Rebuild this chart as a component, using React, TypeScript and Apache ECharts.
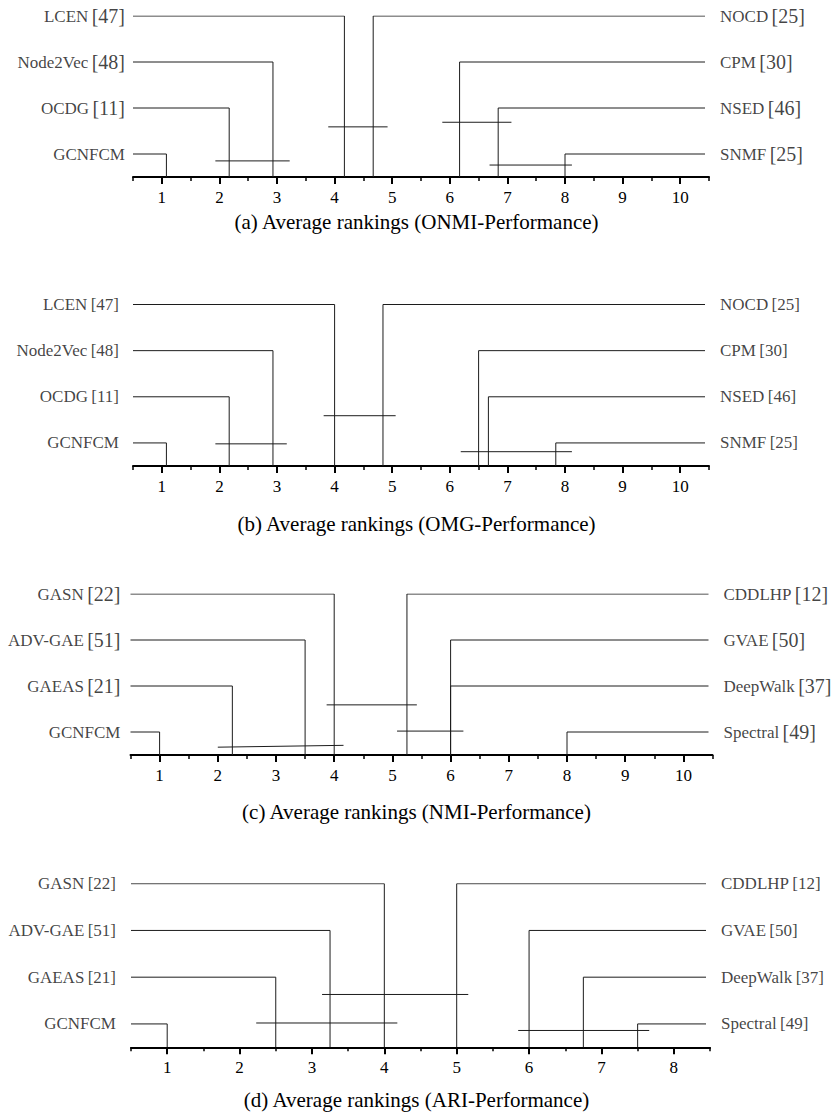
import React, { useEffect, useRef } from 'react';
import * as echarts from 'echarts';

// ---------- Panel (a) ONMI ----------
const aLeftNames = ['GCNFCM', 'OCDG', 'Node2Vec', 'LCEN'];
const aLeftRefs = ['', '[11]', '[48]', '[47]'];
const aLeftRanks = [1.08, 2.17, 2.93, 4.17];
const aRightNames = ['SNMF', 'NSED', 'CPM', 'NOCD'];
const aRightRefs = ['[25]', '[46]', '[30]', '[25]'];
const aRightRanks = [8.0, 6.84, 6.17, 4.67];
const aCdFrom = [1.93, 3.89, 5.87, 6.69];
const aCdTo = [3.22, 4.92, 7.07, 8.12];
const aCdLevelFrom = [0.35, 1.09, 1.19, 0.26];
const aCdLevelTo = [0.35, 1.09, 1.19, 0.26];
const aCaption = '(a) Average rankings (ONMI-Performance)';

// ---------- Panel (b) OMG ----------
const bLeftNames = ['GCNFCM', 'OCDG', 'Node2Vec', 'LCEN'];
const bLeftRefs = ['', '[11]', '[48]', '[47]'];
const bLeftRanks = [1.08, 2.17, 2.93, 4.0];
const bRightNames = ['SNMF', 'NSED', 'CPM', 'NOCD'];
const bRightRefs = ['[25]', '[46]', '[30]', '[25]'];
const bRightRanks = [7.84, 6.67, 6.5, 4.84];
const bCdFrom = [1.93, 3.81, 6.19];
const bCdTo = [3.17, 5.06, 8.12];
const bCdLevelFrom = [0.48, 1.09, 0.31];
const bCdLevelTo = [0.48, 1.09, 0.31];
const bCaption = '(b) Average rankings (OMG-Performance)';

// ---------- Panel (c) NMI ----------
const cLeftNames = ['GCNFCM', 'GAEAS', 'ADV-GAE', 'GASN'];
const cLeftRefs = ['', '[21]', '[51]', '[22]'];
const cLeftRanks = [1.0, 2.25, 3.5, 4.0];
const cRightNames = ['Spectral', 'DeepWalk', 'GVAE', 'CDDLHP'];
const cRightRefs = ['[49]', '[37]', '[50]', '[12]'];
const cRightRanks = [8.0, 6.0, 6.0, 5.25];
const cCdFrom = [2.0, 3.87, 5.08];
const cCdTo = [4.16, 5.42, 6.22];
const cCdLevelFrom = [0.17, 1.09, 0.52];
const cCdLevelTo = [0.21, 1.09, 0.52];
const cCaption = '(c) Average rankings (NMI-Performance)';

// ---------- Panel (d) ARI ----------
const dLeftNames = ['GCNFCM', 'GAEAS', 'ADV-GAE', 'GASN'];
const dLeftRefs = ['', '[21]', '[51]', '[22]'];
const dLeftRanks = [1.0, 2.5, 3.25, 4.0];
const dRightNames = ['Spectral', 'DeepWalk', 'GVAE', 'CDDLHP'];
const dRightRefs = ['[49]', '[37]', '[50]', '[12]'];
const dRightRanks = [7.5, 6.75, 6.0, 5.0];
const dCdFrom = [2.23, 3.14, 5.85];
const dCdTo = [4.18, 5.16, 7.66];
const dCdLevelFrom = [0.52, 1.13, 0.36];
const dCdLevelTo = [0.52, 1.13, 0.36];
const dCaption = '(d) Average rankings (ARI-Performance)';

const rowLevels = [0.5, 1.5, 2.5, 3.5];
const ticks10 = [1, 2, 3, 4, 5, 6, 7, 8, 9, 10];
const ticks8 = [1, 2, 3, 4, 5, 6, 7, 8];

const FONT = '"Liberation Serif", "Times New Roman", serif';

type Panel = {
  leftNames: string[]; leftRefs: string[]; leftRanks: number[];
  rightNames: string[]; rightRefs: string[]; rightRanks: number[];
  cdFrom: number[]; cdTo: number[]; cdLevelFrom: number[]; cdLevelTo: number[];
  caption: string; xMax: number; ticks: number[];
  // layout
  left: number; width: number; top: number; height: number;
  refSize: number; leftGap: number; captionTop: number;
};

const panels: Panel[] = [
  {
    leftNames: aLeftNames, leftRefs: aLeftRefs, leftRanks: aLeftRanks,
    rightNames: aRightNames, rightRefs: aRightRefs, rightRanks: aRightRanks,
    cdFrom: aCdFrom, cdTo: aCdTo, cdLevelFrom: aCdLevelFrom, cdLevelTo: aCdLevelTo,
    caption: aCaption, xMax: 10.5, ticks: ticks10,
    left: 133, width: 576, top: 16, height: 161, refSize: 20, leftGap: 8, captionTop: 211,
  },
  {
    leftNames: bLeftNames, leftRefs: bLeftRefs, leftRanks: bLeftRanks,
    rightNames: bRightNames, rightRefs: bRightRefs, rightRanks: bRightRanks,
    cdFrom: bCdFrom, cdTo: bCdTo, cdLevelFrom: bCdLevelFrom, cdLevelTo: bCdLevelTo,
    caption: bCaption, xMax: 10.5, ticks: ticks10,
    left: 133, width: 576, top: 304.5, height: 161.5, refSize: 17, leftGap: 14, captionTop: 513,
  },
  {
    leftNames: cLeftNames, leftRefs: cLeftRefs, leftRanks: cLeftRanks,
    rightNames: cRightNames, rightRefs: cRightRefs, rightRanks: cRightRanks,
    cdFrom: cCdFrom, cdTo: cCdTo, cdLevelFrom: cCdLevelFrom, cdLevelTo: cCdLevelTo,
    caption: cCaption, xMax: 10.5, ticks: ticks10,
    left: 130.5, width: 582, top: 594, height: 161, refSize: 20, leftGap: 10, captionTop: 801,
  },
  {
    leftNames: dLeftNames, leftRefs: dLeftRefs, leftRanks: dLeftRanks,
    rightNames: dRightNames, rightRefs: dRightRefs, rightRanks: dRightRanks,
    cdFrom: dCdFrom, cdTo: dCdTo, cdLevelFrom: dCdLevelFrom, cdLevelTo: dCdLevelTo,
    caption: dCaption, xMax: 8.5, ticks: ticks8,
    left: 131, width: 579, top: 883.7, height: 163.6, refSize: 17, leftGap: 15, captionTop: 1089,
  },
];

const LINE = '#1c1c1c';

function buildOption() {
  const grid: any[] = [];
  const xAxis: any[] = [];
  const yAxis: any[] = [];
  const series: any[] = [];
  const title: any[] = [];

  panels.forEach((p, i) => {
    const xMin = 0.5;
    grid.push({ left: p.left, width: p.width, top: p.top, height: p.height });
    // main axis with integer ticks and labels
    xAxis.push({
      type: 'value', gridIndex: i, min: xMin, max: p.xMax, position: 'bottom',
      axisLine: { show: true, lineStyle: { color: '#000', width: 2 } },
      axisTick: { show: true, customValues: p.ticks, length: 7, lineStyle: { color: '#000', width: 2 } },
      axisLabel: {
        show: true, customValues: p.ticks, fontSize: 17, fontFamily: FONT, color: '#000', margin: 12,
      },
      splitLine: { show: false },
    });
    // secondary axis: half-unit small ticks
    xAxis.push({
      type: 'value', gridIndex: i, min: xMin, max: p.xMax, interval: 0.5, position: 'bottom',
      axisLine: { show: false },
      axisTick: { show: true, length: 4, lineStyle: { color: '#000', width: 1.5 } },
      axisLabel: { show: false },
      splitLine: { show: false },
    });
    yAxis.push({ type: 'value', gridIndex: i, min: 0, max: 3.5, show: false });

    const xAxisIndex = i * 2;
    const rightEnd = p.xMax - 4 * (p.xMax - xMin) / p.width;
    const lineBase = {
      type: 'line', xAxisIndex, yAxisIndex: i, showSymbol: false, symbol: 'none',
      silent: true, lineStyle: { color: LINE, width: 1 }, z: 3,
    };

    p.leftRanks.forEach((r, k) => {
      series.push({
        ...lineBase,
        data: [[xMin, rowLevels[k]], [r, rowLevels[k]], [r, 0]],
      });
    });
    p.rightRanks.forEach((r, k) => {
      series.push({
        ...lineBase,
        data: [[rightEnd, rowLevels[k]], [r, rowLevels[k]], [r, 0]],
      });
    });
    p.cdFrom.forEach((f, k) => {
      series.push({
        ...lineBase,
        data: [[f, p.cdLevelFrom[k]], [p.cdTo[k], p.cdLevelTo[k]]],
      });
    });

    const rich = {
      n: { fontSize: 17, fontFamily: FONT, color: '#111' },
      r: { fontSize: p.refSize, fontFamily: FONT, color: '#111' },
    };
    const fmt = (name: string, ref: string) => (ref ? `{n|${name}} {r|${ref}}` : `{n|${name}}`);

    series.push({
      type: 'scatter', xAxisIndex, yAxisIndex: i, symbolSize: 0, silent: true,
      itemStyle: { color: 'transparent' },
      label: { show: true, position: 'left', distance: p.leftGap, rich },
      data: p.leftNames.map((nm, k) => ({
        value: [xMin, rowLevels[k]],
        label: { formatter: fmt(nm, p.leftRefs[k]) },
      })),
    });
    series.push({
      type: 'scatter', xAxisIndex, yAxisIndex: i, symbolSize: 0, silent: true,
      itemStyle: { color: 'transparent' },
      label: { show: true, position: 'right', distance: 15, rich },
      data: p.rightNames.map((nm, k) => ({
        value: [rightEnd, rowLevels[k]],
        label: { formatter: fmt(nm, p.rightRefs[k]) },
      })),
    });

    title.push({
      text: p.caption, left: 'center', top: p.captionTop, padding: 0,
      textStyle: { fontFamily: FONT, fontSize: 21, fontWeight: 'normal', color: '#000' },
    });
  });

  return {
    animation: false,
    backgroundColor: '#fff',
    title, grid, xAxis, yAxis, series,
  };
}

export default function App() {
  const ref = useRef<HTMLDivElement>(null);
  useEffect(() => {
    if (!ref.current) return;
    const chart = echarts.init(ref.current, undefined, { renderer: 'svg' });
    chart.setOption(buildOption() as any);
    return () => chart.dispose();
  }, []);
  return (
    <div
      ref={ref}
      style={{ position: 'absolute', left: 0, top: 0, width: 833, height: 1113, background: '#fff' }}
    />
  );
}
